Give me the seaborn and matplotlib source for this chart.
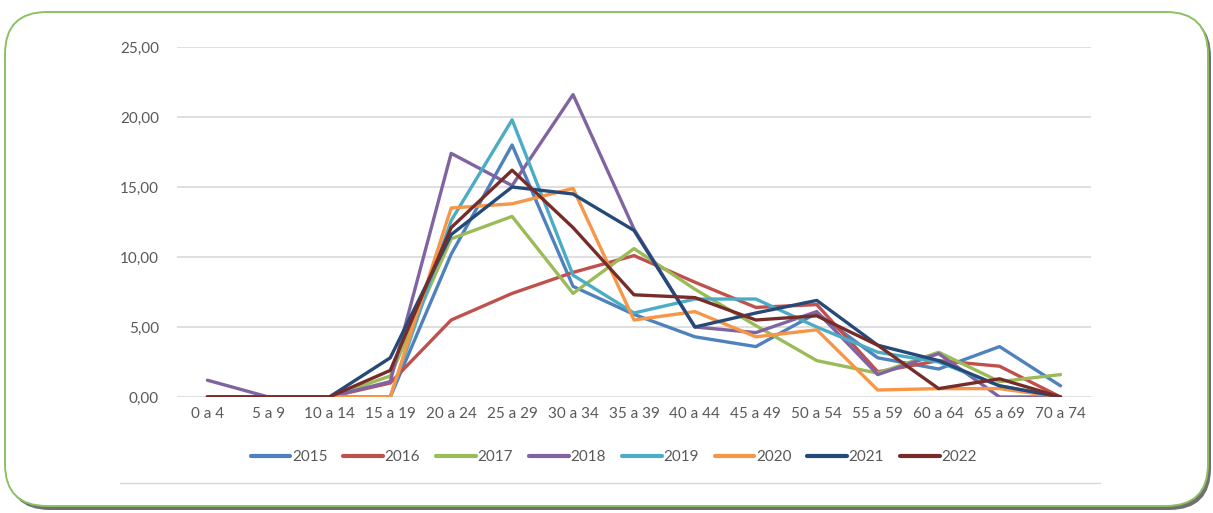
import pandas as pd
import matplotlib.pyplot as plt
import seaborn as sns
from matplotlib.patches import FancyBboxPatch
from matplotlib.ticker import FuncFormatter, MultipleLocator

age_groups = ["0 a 4", "5 a 9", "10 a 14", "15 a 19", "20 a 24", "25 a 29", "30 a 34",
              "35 a 39", "40 a 44", "45 a 49", "50 a 54", "55 a 59", "60 a 64", "65 a 69", "70 a 74"]
years = ["2015", "2016", "2017", "2018", "2019", "2020", "2021", "2022"]

v2015 = [0, 0, 0, 0, 10.2, 18.0, 7.9, 5.9, 4.3, 3.6, 6.0, 2.8, 2.0, 3.6, 0.8]
v2016 = [0, 0, 0, 1.0, 5.5, 7.4, 8.9, 10.1, 8.2, 6.4, 6.6, 1.8, 2.6, 2.2, 0]
v2017 = [0, 0, 0, 1.5, 11.3, 12.9, 7.4, 10.6, 7.7, 5.1, 2.6, 1.7, 3.2, 1.1, 1.6]
v2018 = [1.2, 0, 0, 1.1, 17.4, 15.1, 21.6, 12.0, 5.0, 4.6, 6.1, 1.6, 3.1, 0, 0]
v2019 = [0, 0, 0, 0, 12.6, 19.8, 8.7, 6.0, 7.0, 7.0, 5.0, 3.2, 2.5, 0.8, 0]
v2020 = [0, 0, 0, 0, 13.5, 13.8, 14.9, 5.5, 6.1, 4.3, 4.8, 0.5, 0.6, 0.6, 0]
v2021 = [0, 0, 0, 2.8, 11.6, 15.0, 14.5, 11.9, 5.0, 6.0, 6.9, 3.7, 2.6, 0.8, 0]
v2022 = [0, 0, 0, 1.9, 12.1, 16.2, 12.1, 7.3, 7.1, 5.5, 5.8, 3.7, 0.6, 1.3, 0]

colors = ["#4f81bd", "#c0504d", "#9bbb59", "#8064a2", "#4bacc6", "#f79646", "#254a78", "#772c2a"]

wide = pd.DataFrame({"age": age_groups, "2015": v2015, "2016": v2016, "2017": v2017,
                     "2018": v2018, "2019": v2019, "2020": v2020, "2021": v2021, "2022": v2022})
long = wide.melt(id_vars="age", var_name="year", value_name="value")

sns.set_style("white")
plt.rcParams['font.family'] = ['Lato', 'DejaVu Sans']
text_col = "#595959"

fig = plt.figure(figsize=(12.13, 5.13), dpi=100)

# background frame in pixel coordinates
bg = fig.add_axes([0, 0, 1, 1])
bg.set_xlim(0, 1213)
bg.set_ylim(513, 0)
bg.axis("off")
bg.add_patch(FancyBboxPatch((8, 15), 1203, 495, boxstyle="round,pad=0,rounding_size=42",
                            fc="#707070", ec="none"))
bg.add_patch(FancyBboxPatch((5, 12), 1203, 494, boxstyle="round,pad=0,rounding_size=42",
                            fc="white", ec="#8cc063", lw=1.4))
bg.plot([120, 1100], [483, 483], color="#d9d9d9", lw=1)

ax = fig.add_axes([0.1459, 0.2261, 0.7535, 0.6823])
ax.patch.set_alpha(0)
sns.lineplot(data=long, x="age", y="value", hue="year", palette=colors, linewidth=2.4,
             sort=False, errorbar=None, ax=ax)

ax.set_xlim(-0.5, len(age_groups) - 0.5)
ax.set_ylim(0, 25)
ax.yaxis.set_major_locator(MultipleLocator(5))
ax.yaxis.set_major_formatter(FuncFormatter(lambda v, _: f"{v:.2f}".replace(".", ",")))
ax.set_axisbelow(True)
ax.yaxis.grid(True, color="#d9d9d9", lw=1.2)
ax.xaxis.grid(False)
for s in ax.spines.values():
    s.set_visible(False)
ax.tick_params(axis="both", length=0, labelsize=11, colors=text_col)
ax.tick_params(axis="y", pad=13)
ax.tick_params(axis="x", pad=7)
ax.set_xlabel("")
ax.set_ylabel("")

handles, labels = ax.get_legend_handles_labels()
ax.get_legend().remove()
leg = fig.legend(handles, labels, loc="center", bbox_to_anchor=(0.506, 0.109), ncol=8,
                 frameon=False, fontsize=11, handlelength=2.6, handletextpad=0.1,
                 columnspacing=1.05)
for t in leg.get_texts():
    t.set_color(text_col)
for h in leg.legend_handles:
    h.set_linewidth(3)

fig.savefig("out.png", dpi=100)
